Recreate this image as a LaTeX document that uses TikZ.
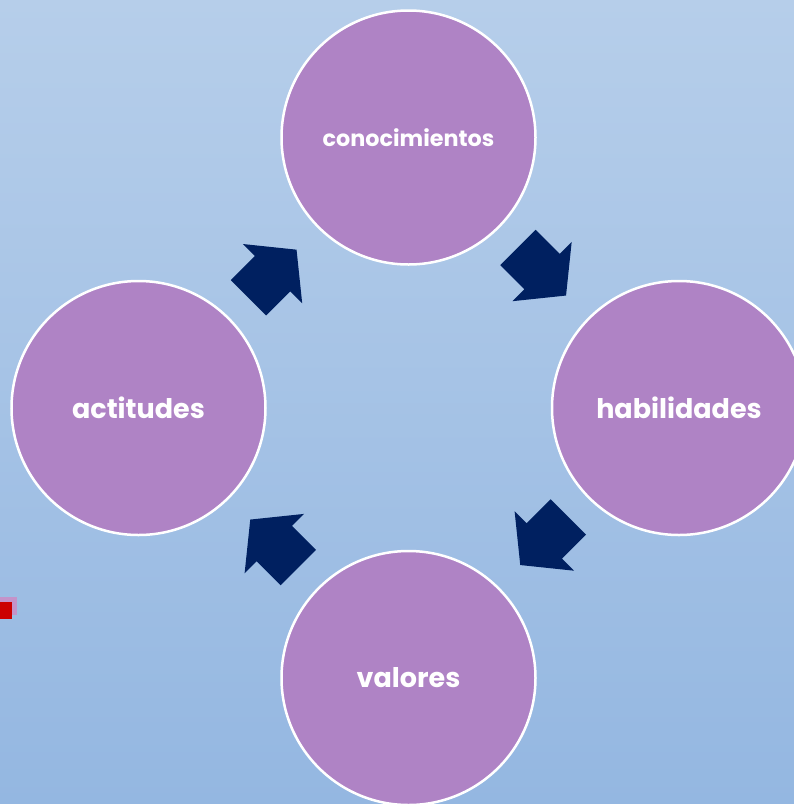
\documentclass[tikz,border=0pt]{standalone}
\usepackage{fontspec}
\setmainfont{Poppins}
\definecolor{bgtop}{HTML}{B6CEEA}
\definecolor{bgmid}{HTML}{A8C4E6}
\definecolor{bgbot}{HTML}{94B7E1}
\definecolor{circfill}{HTML}{AF83C5}
\definecolor{arrowcol}{HTML}{002060}
\definecolor{redmark}{HTML}{CC0000}
\definecolor{pinkmark}{HTML}{C493C9}
\tikzset{
  topic/.style={circle, draw=white, line width=2.5pt, fill=circfill, minimum size=254pt, inner sep=0pt, text=white, font=\bfseries\fontsize{27}{30}\selectfont},
  small topic/.style={topic, font=\bfseries\fontsize{22.3}{26}\selectfont},
  blockarrow/.style={fill=arrowcol},
}
\newcommand{\blockarrowpath}{(-34,-25) -- (0,-25) -- (0,-42) -- (34,0) -- (0,42) -- (0,25) -- (-34,25) -- cycle}
\begin{document}
\begin{tikzpicture}[x=1pt,y=-1pt]
  \useasboundingbox (0,0) rectangle (794,804);
  \shade[top color=bgtop, middle color=bgmid, bottom color=bgbot] (0,0) rectangle (794,804);
  % red marker
  \fill[pinkmark] (0,597) rectangle (17,615);
  \fill[redmark] (0,602) rectangle (12,619);
  % circles
  \node[small topic] (con) at (408.5,137.5) {conocimientos};
  \node[topic] (hab) at (679,408) {habilidades};
  \node[topic] (val) at (408.5,678) {valores};
  \node[topic] (act) at (138.5,408) {actitudes};
  % arrow positions
  \coordinate (a1) at (542,271.5);
  \coordinate (a2) at (272.5,273.7);
  \coordinate (a3) at (544.3,541);
  \coordinate (a4) at (274.3,543.6);
  \fill[blockarrow, shift={(a1)}, rotate=-45] \blockarrowpath;
  \fill[blockarrow, shift={(a2)}, rotate=45] \blockarrowpath;
  \fill[blockarrow, shift={(a3)}, rotate=-135] \blockarrowpath;
  \fill[blockarrow, shift={(a4)}, rotate=135] \blockarrowpath;
\end{tikzpicture}
\end{document}
